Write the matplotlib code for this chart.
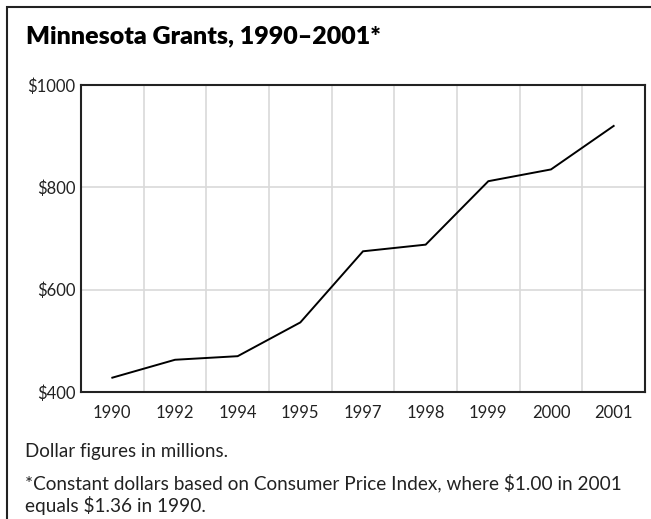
import matplotlib
matplotlib.use("Agg")
import matplotlib.pyplot as plt
from matplotlib.patches import Rectangle
from matplotlib.ticker import FixedLocator, FuncFormatter

plt.rcParams['font.family'] = ['Lato', 'DejaVu Sans']

years = ['1990', '1992', '1994', '1995', '1997', '1998', '1999', '2000', '2001']
grants = [428, 463, 470, 536, 675, 688, 812, 835, 920]
y_ticks = [400, 600, 800, 1000]

title = "Minnesota Grants, 1990\u20132001*"
note1 = "Dollar figures in millions."
note2_lines = ["*Constant dollars based on Consumer Price Index, where $1.00 in 2001",
               "equals $1.36 in 1990."]

W, H = 651, 519
fig = plt.figure(figsize=(W / 100, H / 100), dpi=100)

# outer frame
fig.patches.append(Rectangle((7 / W, -0.05), 1.2, 1.05 - 7 / H, transform=fig.transFigure,
                             fill=False, edgecolor='#222222', linewidth=1.5))

ax = fig.add_axes([81 / W, 1 - 392 / H, (645 - 81) / W, (392 - 85) / H])
x = list(range(len(years)))
ax.plot(x, grants, color='black', linewidth=1.4, solid_joinstyle='miter', zorder=3)

ax.set_xlim(-0.5, len(years) - 0.5)
ax.set_ylim(400, 1000)
ax.set_xticks(x)
ax.set_xticklabels(years)
ax.xaxis.set_minor_locator(FixedLocator([i + 0.5 for i in range(len(years) - 1)]))
ax.set_yticks(y_ticks)
ax.yaxis.set_major_formatter(FuncFormatter(lambda v, p: f"${int(v)}"))

ax.grid(False)
ax.grid(True, which='minor', axis='x', color='#d9d9d9', linewidth=1.2)
ax.grid(True, which='major', axis='y', color='#d9d9d9', linewidth=1.2)
ax.set_axisbelow(True)
ax.tick_params(axis='both', which='both', length=0, labelsize=12, colors='#222222')
ax.tick_params(axis='x', pad=9.5)
ax.tick_params(axis='y', pad=4)
for s in ax.spines.values():
    s.set_linewidth(1.5)
    s.set_color('#222222')

fig.text(26 / W, 1 - 43.3 / H, title, fontsize=18, fontweight='heavy', va='baseline', ha='left', color='black')
fig.text(25 / W, 1 - 457 / H, note1, fontsize=13.5, va='baseline', ha='left', color='#222222')
fig.text(25 / W, 1 - 489.5 / H, note2_lines[0], fontsize=13.7, va='baseline', ha='left', color='#222222')
fig.text(25 / W, 1 - 512 / H, note2_lines[1], fontsize=13.7, va='baseline', ha='left', color='#222222')

fig.savefig('out.png', dpi=100)
